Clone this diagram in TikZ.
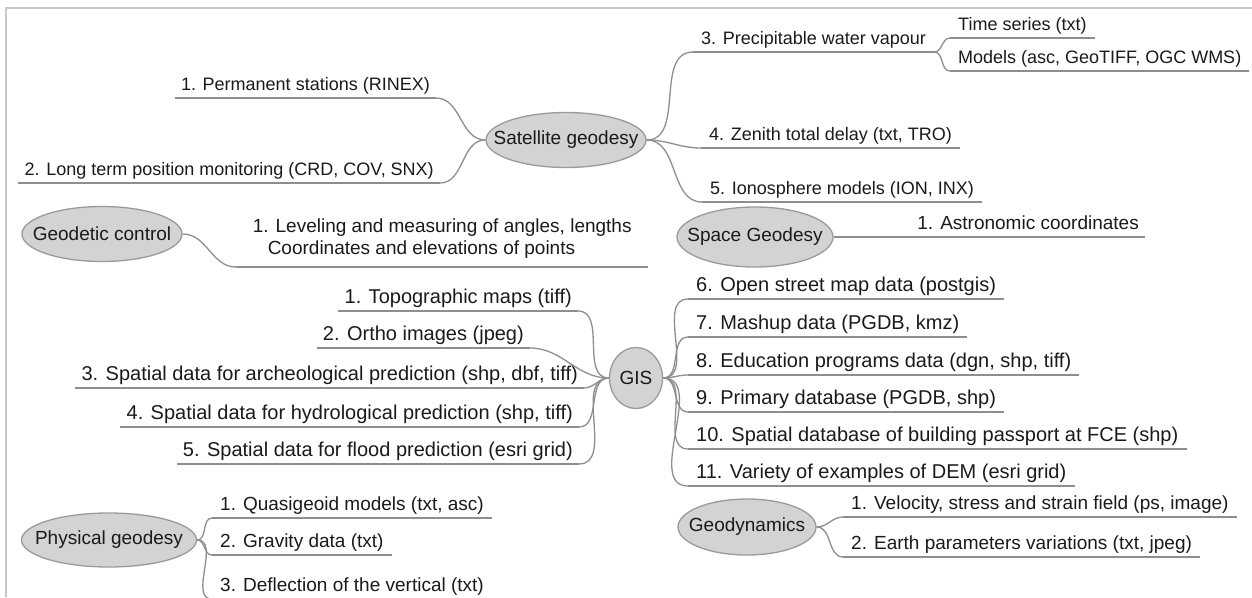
\documentclass[tikz,border=0pt]{standalone}
\usepackage{fontspec}
\setmainfont{Liberation Sans}
\usetikzlibrary{shapes.geometric}
\definecolor{topicfill}{HTML}{D3D3D3}
\definecolor{topicline}{HTML}{9A9A9A}
\definecolor{branchline}{HTML}{8E8E8E}
\definecolor{framegray}{HTML}{C8C8C8}
\definecolor{inktext}{HTML}{1A1A1A}
\newcommand{\topictext}[1]{\makebox[0pt]{#1}}
\begin{document}
\begin{tikzpicture}[x=1pt,y=-1pt,
  font=\fontsize{19}{22}\selectfont, text=inktext,
  topic/.style={ellipse,draw=topicline,fill=topicfill,line width=1.3pt,inner sep=0pt},
  leafr/.style={anchor=south west,inner xsep=8pt,inner ysep=3pt,text height=14pt,text depth=4pt},
  leafl/.style={anchor=south east,inner xsep=6pt,inner ysep=3pt,text height=14pt,text depth=4pt},
  satleaf/.style={font=\fontsize{18}{22}\selectfont},
  gisleaf/.style={font=\fontsize{20}{22}\selectfont},
  branch/.style={draw=branchline,line width=1.3pt}]
\clip (0,0) rectangle (1252,597);
\draw[framegray,line width=1.2pt] (6,597) -- (6,8) -- (1252,8);
%
\node[topic,minimum width=160pt,minimum height=55pt] (sat) at (566,140) {\topictext{Satellite geodesy}};
\node[leafl,satleaf] (s1) at (436,98) {1. Permanent stations (RINEX)};
\node[leafl,satleaf] (s2) at (440,183) {2. Long term position monitoring (CRD, COV, SNX)};
\node[leafr,satleaf] (s3) at (693,52) {3. Precipitable water vapour};
\node[leafr,satleaf] (s31) at (950,38) {Time series (txt)};
\node[leafr,satleaf] (s32) at (950,71) {Models (asc, GeoTIFF, OGC WMS)};
\node[leafr,satleaf] (s4) at (701,148) {4. Zenith total delay (txt, TRO)};
\node[leafr,satleaf] (s5) at (702,202) {5. Ionosphere models (ION, INX)};
\draw[branch] (s1.south east) to[out=0,in=180] (sat.west);
\draw[branch] (s2.south east) to[out=0,in=180] (sat.west);
\foreach \n in {s3,s4,s5} \draw[branch] (sat.east) to[out=0,in=180] (\n.south west);
\foreach \n in {s31,s32} \draw[branch] (s3.south east) to[out=0,in=180] (\n.south west);
%
\node[topic,minimum width=160pt,minimum height=55pt] (geo) at (102,234) {\topictext{Geodetic control}};
\node[anchor=south west,align=left,minimum width=412pt,inner xsep=8pt,inner ysep=8pt] (c1) at (236,267)
  {1. Leveling and measuring of angles, lengths\\\hspace*{15pt}Coordinates and elevations of points};
\draw[branch] (geo.east) to[out=0,in=180] (c1.south west);
%
\node[topic,minimum width=156pt,minimum height=60pt] (spc) at (755,237) {\topictext{Space Geodesy}};
\node[leafl] (a1) at (1145,237) {1. Astronomic coordinates};
\draw[branch] (spc.east) -- (a1.south east);
%
\node[topic,minimum width=53pt,minimum height=61pt] (gis) at (636,378) {\topictext{GIS}};
\node[leafl,gisleaf] (t1) at (578,311) {1. Topographic maps (tiff)};
\node[leafl,gisleaf] (t2) at (530,348) {2. Ortho images (jpeg)};
\node[leafl,gisleaf] (t3) at (584,388) {3. Spatial data for archeological prediction (shp, dbf, tiff)};
\node[leafl,gisleaf] (t4) at (579,427) {4. Spatial data for hydrological prediction (shp, tiff)};
\node[leafl,gisleaf] (t5) at (579,464) {5. Spatial data for flood prediction (esri grid)};
\node[leafr,gisleaf] (t6) at (688,299) {6. Open street map data (postgis)};
\node[leafr,gisleaf] (t7) at (688,337) {7. Mashup data (PGDB, kmz)};
\node[leafr,gisleaf] (t8) at (688,375) {8. Education programs data (dgn, shp, tiff)};
\node[leafr,gisleaf] (t9) at (688,412) {9. Primary database (PGDB, shp)};
\node[leafr,gisleaf] (t10) at (688,449) {10. Spatial database of building passport at FCE (shp)};
\node[leafr,gisleaf] (t11) at (688,486) {11. Variety of examples of DEM (esri grid)};
\foreach \n in {1,...,5} \draw[branch] (t\n.south east) to[out=0,in=180] (gis.west);
\foreach \n in {6,...,11} \draw[branch] (gis.east) to[out=0,in=180] (t\n.south west);
%
\node[topic,minimum width=175pt,minimum height=54pt] (phy) at (109,540) {\topictext{Physical geodesy}};
\node[leafr] (p1) at (212,518) {1. Quasigeoid models (txt, asc)};
\node[leafr] (p2) at (212,555) {2. Gravity data (txt)};
\node[leafr] (p3) at (212,599) {3. Deflection of the vertical (txt)};
\foreach \n in {p1,p2,p3} \draw[branch] (phy.east) to[out=0,in=180] (\n.south west);
%
\node[topic,minimum width=138pt,minimum height=56pt] (gdy) at (747,527) {\topictext{Geodynamics}};
\node[leafr] (d1) at (843,517) {1. Velocity, stress and strain field (ps, image)};
\node[leafr] (d2) at (843,557) {2. Earth parameters variations (txt, jpeg)};
\foreach \n in {d1,d2} \draw[branch] (gdy.east) to[out=0,in=180] (\n.south west);
%
% underlines
\foreach \n in {s1,s2,s3,s31,s32,s4,s5,c1,t1,t2,t3,t4,t5,t6,t7,t8,t9,t10,t11,p1,p2,p3,d1,d2}
  \draw[branch] (\n.south west) -- (\n.south east);
\end{tikzpicture}
\end{document}
